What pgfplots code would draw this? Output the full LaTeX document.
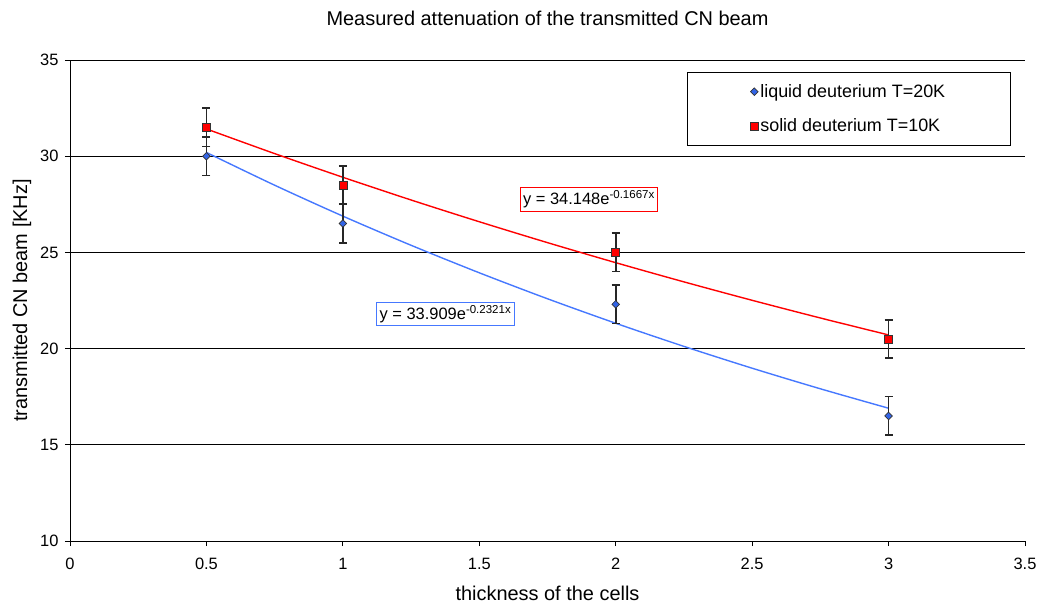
\documentclass[border=0pt]{standalone}
\usepackage{fontspec}
\setmainfont{Liberation Sans}
\usepackage{pgfplots}
\pgfplotsset{compat=1.18}
\definecolor{trblue}{RGB}{70,120,255}
\definecolor{mkblue}{RGB}{50,100,230}
\begin{document}
\begin{tikzpicture}
\begin{axis}[
  scale only axis,
  width=955bp, height=481bp,
  xmin=0, xmax=3.5, ymin=10, ymax=35,
  xtick={0,0.5,1,1.5,2,2.5,3,3.5},
  xticklabels={0,0.5,1,1.5,2,2.5,3,3.5},
  ytick={10,15,20,25,30,35},
  axis x line=bottom, axis y line=left,
  axis line style={-, line width=0.9bp},
  tick align=outside,
  major tick length=5bp,
  tick style={black, line width=0.9bp},
  ymajorgrids,
  grid style={black, line width=0.9bp},
  font=\fontsize{16.5}{20}\selectfont,
  tick label style={font=\fontsize{16.5}{20}\selectfont},
  xticklabel style={yshift=-9bp},
  yticklabel style={xshift=-3bp},
  /pgf/number format/assume math mode=true,
  title={Measured attenuation of the transmitted CN beam},
  title style={at={(axis description cs:0.5,1.052)}, anchor=south, font=\fontsize{20}{24}\selectfont},
  xlabel={thickness of the cells},
  xlabel style={at={(axis description cs:0.5,-0.086)}, anchor=north, font=\fontsize{20}{24}\selectfont},
  ylabel={transmitted CN beam [KHz]},
  ylabel style={at={(axis description cs:-0.037,0.5)}, anchor=south, font=\fontsize{20}{24}\selectfont},
  legend style={at={(axis description cs:0.985,0.975)}, anchor=north east,
    draw=black, line width=0.9bp, inner xsep=63bp, inner ysep=10bp,
    row sep=16bp, font=\fontsize{18}{21}\selectfont},
  legend cell align=left,
]
% trend lines (exponential fits, values typed)
\addplot[red, line width=1.4bp, smooth, forget plot] coordinates {
 (0.5,31.417) (0.75,30.135) (1,28.905) (1.25,27.724) (1.5,26.593) (1.75,25.507)
 (2,24.466) (2.25,23.468) (2.5,22.510) (2.75,21.591) (3,20.710)};
\addplot[trblue, line width=1.4bp, smooth, forget plot] coordinates {
 (0.5,30.194) (0.75,28.492) (1,26.885) (1.25,25.370) (1.5,23.940) (1.75,22.590)
 (2,21.317) (2.25,20.115) (2.5,18.981) (2.75,17.911) (3,16.901)};
% data
\addplot[only marks, mark=square*, mark size=2.7bp,
  mark options={rotate=45, fill=mkblue, draw=black!80, line width=0.7bp},
  error bars/.cd, y dir=both, y explicit,
  error bar style={black!85, line width=1.6bp},
  error mark options={rotate=90, mark size=4bp, line width=1.6bp, black!85}]
  coordinates {(0.5,30) +- (0,1) (1,26.5) +- (0,1) (2,22.3) +- (0,1) (3,16.5) +- (0,1)};
\addlegendentry{liquid deuterium T=20K}
\addplot[only marks, mark=square*, mark size=4bp,
  mark options={fill=red, draw=black!80, line width=0.7bp},
  error bars/.cd, y dir=both, y explicit,
  error bar style={black!85, line width=1.6bp},
  error mark options={rotate=90, mark size=4bp, line width=1.6bp, black!85}]
  coordinates {(0.5,31.5) +- (0,1) (1,28.5) +- (0,1) (2,25) +- (0,1) (3,20.5) +- (0,1)};
\addlegendentry{solid deuterium T=10K}
\node[draw=red, fill=white, line width=0.8bp, inner sep=3bp, font=\fontsize{16.5}{20}\selectfont]
  at (axis cs:1.902,27.75) {y = 34.148e\textsuperscript{-0.1667x}};
\node[draw=trblue, fill=white, line width=0.8bp, inner sep=3bp, font=\fontsize{16.5}{20}\selectfont]
  at (axis cs:1.376,21.80) {y = 33.909e\textsuperscript{-0.2321x}};
\end{axis}
\path ([shift={(-70bp,-69bp)}]current axis.south west) rectangle ([shift={(19bp,60bp)}]current axis.north east);
\end{tikzpicture}
\end{document}
